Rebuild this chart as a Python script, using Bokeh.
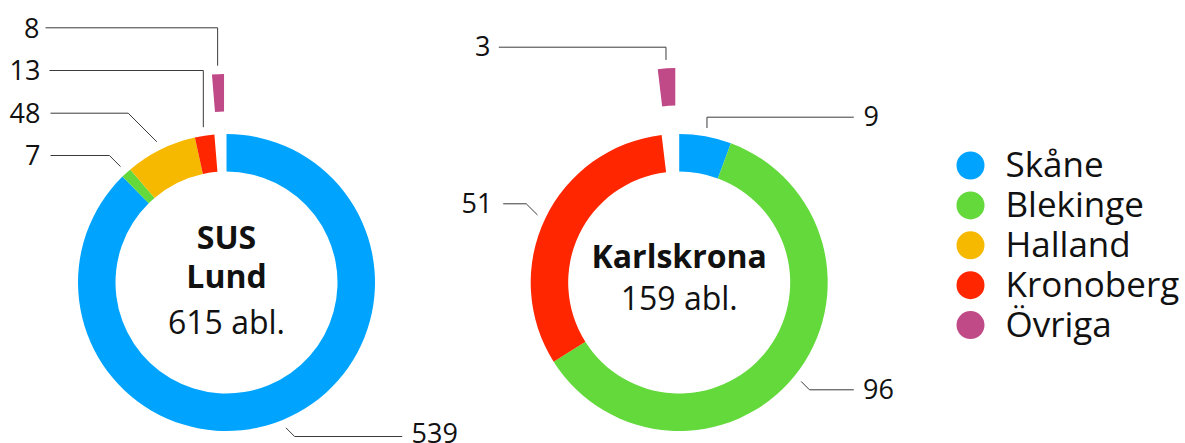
import math
from bokeh.plotting import figure
from bokeh.models import Range1d, ColumnDataSource
from bokeh.core.properties import value
from bokeh.embed import file_html
from bokeh.resources import INLINE

# ---------------- data ----------------
regions = ["Skåne", "Blekinge", "Halland", "Kronoberg", "Övriga"]
region_colors = ["#00A4FF", "#63D93B", "#F7B900", "#FF2600", "#BF4A87"]
lund_values = [539, 7, 48, 13, 8]
karlskrona_values = [9, 96, 0, 51, 3]
lund_title = ["SUS", "Lund"]
karlskrona_title = ["Karlskrona"]
unit_label = "abl."

# ---------------- layout ----------------
W, H = 1185, 443
FONT = value("Open Sans")
TEXT_COLOR = "#111111"
LINE_COLOR = "#3a3a3a"
R_OUT, R_IN = 148.5, 111.0
BASE_FIX = 0.37  # svg baseline correction, in em


def sy(y):
    """screen y (from top of window) -> data y"""
    return H - y


def ty(base, fs):
    """screen baseline -> data y for text of font size fs"""
    return sy(base) + BASE_FIX * fs


p = figure(width=W, height=H, x_range=Range1d(0, W), y_range=Range1d(0, H),
           output_backend="svg", toolbar_location=None, min_border=0,
           x_axis_location=None, y_axis_location=None, outline_line_color=None)
p.grid.visible = False
p.background_fill_color = "white"
p.border_fill_color = "white"

# label layout per slice: (leader kind, line y, line end x, text x, align, text baseline)
charts = [
    dict(cx=226.0, cy=282.0, values=lund_values, explode=4, dist=60.0,
         title=lund_title, title_base=[248.3, 287.3], total_base=333.3,
         labels={0: ("diag", 436.0, 401.7, 411.0, "left", 442.5),
                 1: ("diag", 155.0, 50.0, 40.0, "right", 164.5),
                 2: ("diag", 112.7, 50.0, 40.0, "right", 122.2),
                 3: ("vert", 70.0, 49.0, 40.0, "right", 79.5),
                 4: ("vert", 27.3, 45.0, 39.0, "right", 37.5)}),
    dict(cx=678.7, cy=282.0, values=karlskrona_values, explode=4, dist=66.0,
         title=karlskrona_title, title_base=[267.3], total_base=309.0,
         labels={0: ("vert", 116.7, 853.3, 863.0, "left", 125.5),
                 1: ("diag", 389.3, 853.3, 862.5, "left", 398.5),
                 3: ("diag", 203.3, 502.7, 492.0, "right", 212.0),
                 4: ("vert", 46.7, 498.3, 490.0, "right", 55.0)}),
]

LBL_FS, TITLE_FS, LEG_FS = 27, 32, 35

wx, wy, ws, we, wc = [], [], [], [], []
for ch in charts:
    vals = ch["values"]
    total = sum(vals)
    cum = 0
    for i, v in enumerate(vals):
        if v == 0:
            continue
        t0 = cum / total * 2 * math.pi
        t1 = (cum + v) / total * 2 * math.pi
        cum += v
        tm = (t0 + t1) / 2
        cx, cy = ch["cx"], ch["cy"]
        d = ch["dist"] if i == ch["explode"] else 0.0
        x = cx + d * math.sin(tm)
        y = sy(cy) + d * math.cos(tm)
        wx.append(x); wy.append(y)
        ws.append(math.pi / 2 - t0); we.append(math.pi / 2 - t1)
        wc.append(region_colors[i])

        # leader line + value label
        if i in ch["labels"]:
            kind, ly, lx_end, tx, align, tb = ch["labels"][i]
            r0 = R_OUT + 8.5 + d
            sx0 = cx + r0 * math.sin(tm)
            sy0 = cy - r0 * math.cos(tm)
            if kind == "vert":
                ex = sx0
            else:
                sign = 1 if lx_end > sx0 else -1
                ex = sx0 + sign * abs(ly - sy0)
            p.line([sx0, ex, lx_end], [sy(sy0), sy(ly), sy(ly)],
                   line_color=LINE_COLOR, line_width=1)
            p.text(x=[tx], y=[ty(tb, LBL_FS)], text=[str(v)], text_font=FONT,
                   text_font_size=f"{LBL_FS}px", text_align=align,
                   text_baseline="alphabetic", text_color=TEXT_COLOR)

    # centre titles
    for line, base in zip(ch["title"], ch["title_base"]):
        p.text(x=[ch["cx"]], y=[ty(base, TITLE_FS)], text=[line], text_font=FONT,
               text_font_size=f"{TITLE_FS}px", text_font_style="bold",
               text_align="center", text_baseline="alphabetic", text_color=TEXT_COLOR)
    p.text(x=[ch["cx"]], y=[ty(ch["total_base"], TITLE_FS)],
           text=[f"{total} {unit_label}"], text_font=FONT,
           text_font_size=f"{TITLE_FS}px", text_align="center",
           text_baseline="alphabetic", text_color=TEXT_COLOR)

src = ColumnDataSource(dict(x=wx, y=wy, s=ws, e=we, c=wc))
p.annular_wedge(x="x", y="y", inner_radius=R_IN, outer_radius=R_OUT,
                start_angle="s", end_angle="e", direction="clock",
                fill_color="c", line_color=None, source=src)

# legend
LEG_X, LEG_Y0, LEG_STEP = 970.0, 165.0, 39.9
leg_sy = [LEG_Y0 + k * LEG_STEP for k in range(len(regions))]
p.circle(x=[LEG_X] * len(regions), y=[sy(s) for s in leg_sy], radius=14,
         fill_color=region_colors, line_color=None)
p.text(x=[1005.0] * len(regions), y=[ty(s + 11, LEG_FS) for s in leg_sy], text=regions,
       text_font=FONT, text_font_size=f"{LEG_FS}px", text_align="left",
       text_baseline="alphabetic", text_color=TEXT_COLOR)

open("out.html", "w").write(file_html(p, INLINE))
